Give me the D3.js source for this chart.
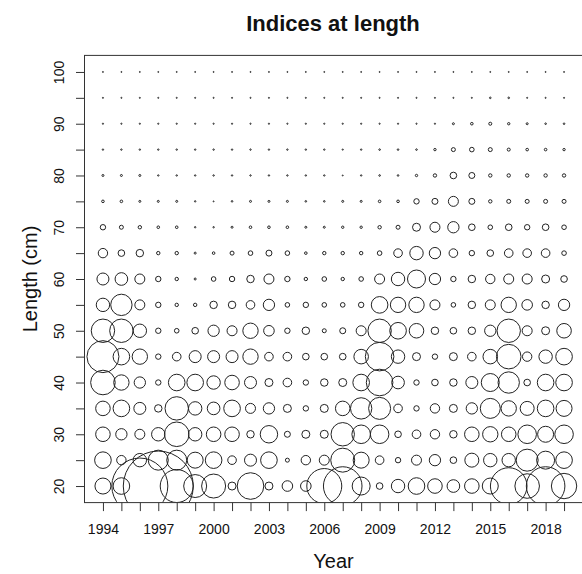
<!DOCTYPE html>
<html>
<head>
<meta charset="utf-8">
<script src="https://cdn.jsdelivr.net/npm/d3@7"></script>
<style>
  body { margin: 0; background: #fff; }
  text { font-family: "Liberation Sans", Arial, sans-serif; fill: #111; }
</style>
</head>
<body>
<script>
// years and length bins
var years = d3.range(1994, 2020);
var lengths = [20, 25, 30, 35, 40, 45, 50, 55, 60, 65, 70, 75, 80, 85, 90, 95, 100];
var xTickLabels = [1994, 1997, 2000, 2003, 2006, 2009, 2012, 2015, 2018];
var yTickLabels = [20, 30, 40, 50, 60, 70, 80, 90, 100];

// index at length, one row per length bin, one value per year (1994..2019)
var idx20 = [64, 69, 784, 1225, 272, 132, 144, 16, 177, 16, 28, 28, 306, 372, 81, 11, 45, 69, 53, 40, 53, 64, 335, 151, 372, 161];
var idx25 = [69, 22, 45, 100, 100, 64, 69, 18.5, 36, 69, 4, 22, 25, 144, 64, 18.5, 7.3, 25, 32, 11, 49, 45, 45, 121, 81, 69];
var idx30 = [53, 32, 25, 45, 151, 45, 53, 53, 14, 76, 9, 16, 16, 137, 86, 86, 11, 18.5, 22, 14, 53, 59, 53, 86, 64, 86];
var idx35 = [53, 69, 36, 14, 137, 45, 40, 69, 25, 32, 16, 7.3, 16, 53, 114, 121, 18.5, 7.3, 22, 16, 32, 100, 59, 49, 69, 64];
var idx40 = [151, 59, 32, 7.3, 69, 69, 45, 53, 36, 16, 18.5, 7.3, 14, 16, 69, 177, 40, 7.3, 11, 14, 36, 81, 114, 11, 69, 69];
var idx45 = [256, 69, 59, 7.3, 18.5, 36, 36, 36, 59, 18.5, 18.5, 11, 11, 11, 53, 204, 45, 16, 7.3, 16, 18.5, 53, 151, 22, 45, 69];
var idx50 = [137, 137, 45, 7.3, 5.3, 11, 32, 25, 59, 28, 7.3, 14, 4, 9, 25, 137, 69, 53, 14, 11, 14, 32, 137, 25, 16, 53];
var idx55 = [45, 114, 25, 7.3, 2.9, 2.9, 14, 14, 18.5, 32, 5.3, 7.3, 5.3, 5.3, 7.3, 69, 59, 59, 25, 5.3, 14, 25, 59, 28, 14, 32];
var idx60 = [36, 40, 25, 7.3, 2.9, 1, 5.3, 7.3, 14, 25, 7.3, 2.9, 5.3, 2.9, 5.3, 25, 45, 81, 32, 7.3, 14, 22, 25, 25, 16, 11];
var idx65 = [22, 11, 14, 2.9, 2.9, 1, 1.7, 4, 5.3, 9, 5.3, 1.7, 2.9, 2.9, 2.9, 5.3, 18.5, 45, 32, 18.5, 7.3, 11, 18.5, 18.5, 18.5, 5.3];
var idx70 = [7.3, 4, 2.9, 1.7, 1.7, 0.5, 0.5, 1, 1.7, 1.7, 1.7, 1, 1, 1.4, 1.4, 2.9, 4, 16, 25, 32, 11, 5.3, 11, 7.3, 11, 5.3];
var idx75 = [1.7, 1.7, 1, 1, 1, 0.5, 0.25, 0.64, 1, 1, 1, 0.64, 0.64, 1, 1, 1.7, 1.7, 7.3, 9, 25, 9, 2.9, 4, 4, 4, 4];
var idx80 = [1, 1, 1, 0.5, 0.5, 0.5, 0.5, 0.5, 0.5, 0.5, 0.5, 0.5, 0.5, 0.25, 0.5, 0.64, 0.64, 1.4, 2.9, 11, 9, 2.9, 2.9, 2.9, 2.9, 2.9];
var idx85 = [0.5, 0.5, 0.5, 0.5, 0.5, 0.5, 0.5, 0.5, 0.5, 0.5, 0.5, 0.5, 0.5, 0.36, 0.5, 0.64, 0.64, 0.64, 1.4, 4, 5.3, 4, 2.3, 1.7, 1.7, 1.4];
var idx90 = [0.36, 0.36, 0.36, 0.36, 0.36, 0.36, 0.36, 0.36, 0.36, 0.36, 0.36, 0.36, 0.36, 0.36, 0.36, 0.36, 0.36, 0.36, 0.36, 1, 1.7, 2.3, 1.4, 1, 0.64, 0.64];
var idx95 = [0.3, 0.3, 0.3, 0.3, 0.3, 0.3, 0.3, 0.3, 0.3, 0.3, 0.3, 0.3, 0.3, 0.3, 0.3, 0.3, 0.3, 0.3, 0.3, 0.3, 0.3, 0.64, 0.64, 0.3, 0.3, 0.3];
var idx100 = [0.25, 0.25, 0.25, 0.25, 0.25, 0.25, 0.25, 0.25, 0.25, 0.25, 0.25, 0.25, 0.25, 0.25, 0.25, 0.25, 0.25, 0.25, 0.25, 0.25, 0.25, 0.25, 0.25, 0.25, 0.25, 0.25];
var indices = [idx20, idx25, idx30, idx35, idx40, idx45, idx50, idx55, idx60, idx65, idx70, idx75, idx80, idx85, idx90, idx95, idx100];

var W = 582, H = 574;
var plotL = 84.5, plotR = 582.5, plotT = 55.4, plotB = 502.6;

// ranges padded 4% like R
var x = d3.scaleLinear().domain([1993, 2020]).range([plotL, plotR]);
var y = d3.scaleLinear().domain([16.8, 103.2]).range([plotB, plotT]);
var r = d3.scaleSqrt().domain([0, 1225]).range([0, 35]);

var svg = d3.select("body").append("svg")
  .attr("width", W)
  .attr("height", H);

svg.append("clipPath").attr("id", "plotclip")
  .append("rect")
  .attr("x", plotL).attr("y", plotT)
  .attr("width", plotR - plotL).attr("height", plotB - plotT);

// flatten data
var data = [];
lengths.forEach(function (len, i) {
  years.forEach(function (yr, j) {
    data.push({ year: yr, len: len, value: indices[i][j] });
  });
});

svg.append("g")
  .attr("clip-path", "url(#plotclip)")
  .selectAll("circle")
  .data(data)
  .enter().append("circle")
  .attr("cx", function (d) { return x(d.year); })
  .attr("cy", function (d) { return y(d.len); })
  .attr("r", function (d) { return r(d.value); })
  .attr("fill", "none")
  .attr("stroke", "#222")
  .attr("stroke-width", 1);

// box
svg.append("rect")
  .attr("x", plotL).attr("y", plotT)
  .attr("width", plotR - plotL).attr("height", plotB - plotT)
  .attr("fill", "none")
  .attr("stroke", "#333")
  .attr("stroke-width", 1);

// x axis
var xAxis = d3.axisBottom(x)
  .tickValues(years)
  .tickSize(8.5)
  .tickPadding(13)
  .tickFormat(function (d) { return xTickLabels.indexOf(d) >= 0 ? d : ""; });
var gx = svg.append("g")
  .attr("transform", "translate(0," + plotB + ")")
  .call(xAxis);
gx.select(".domain").remove();
gx.selectAll("line").attr("stroke", "#333");
gx.selectAll("text").attr("font-size", 14).attr("fill", "#111");

// y axis, labels rotated
var yAxis = d3.axisLeft(y)
  .tickValues(lengths)
  .tickSize(8.5)
  .tickPadding(10)
  .tickFormat(function (d) { return yTickLabels.indexOf(d) >= 0 ? d : ""; });
var gy = svg.append("g")
  .attr("transform", "translate(" + plotL + ",0)")
  .call(yAxis);
gy.select(".domain").remove();
gy.selectAll("line").attr("stroke", "#333");
gy.selectAll("text")
  .attr("font-size", 14)
  .attr("fill", "#111")
  .attr("x", null).attr("dy", null)
  .attr("text-anchor", "middle")
  .attr("transform", "translate(-20.5,0) rotate(-90)");

// titles
svg.append("text")
  .attr("x", (plotL + plotR) / 2 - 0.5)
  .attr("y", 31)
  .attr("text-anchor", "middle")
  .attr("font-size", 22)
  .attr("font-weight", "bold")
  .text("Indices at length");

svg.append("text")
  .attr("x", (plotL + plotR) / 2)
  .attr("y", 568)
  .attr("text-anchor", "middle")
  .attr("font-size", 20)
  .text("Year");

svg.append("text")
  .attr("transform", "translate(37," + (plotT + plotB) / 2 + ") rotate(-90)")
  .attr("text-anchor", "middle")
  .attr("font-size", 20)
  .text("Length (cm)");
</script>
</body>
</html>
